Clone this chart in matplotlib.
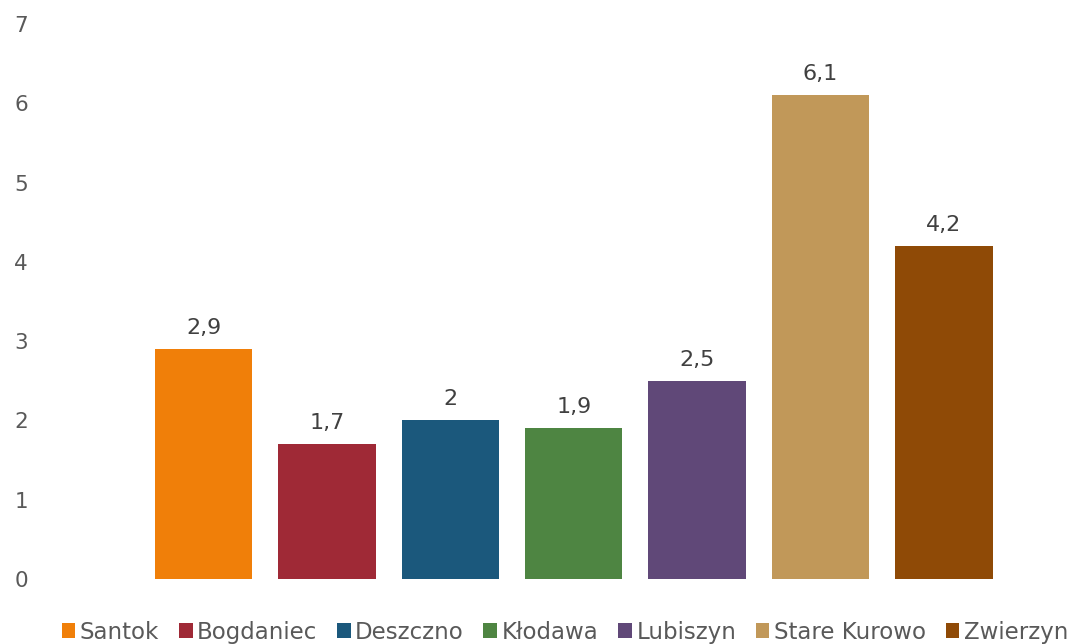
import matplotlib
matplotlib.use('Agg')
import matplotlib.pyplot as plt
import numpy as np

# data
gminy = ['Santok', 'Bogdaniec', 'Deszczno', 'Kłodawa', 'Lubiszyn', 'Stare Kurowo', 'Zwierzyn']
wartosci = [2.9, 1.7, 2.0, 1.9, 2.5, 6.1, 4.2]
etykiety = ['2,9', '1,7', '2', '1,9', '2,5', '6,1', '4,2']
kolory = ['#F07F09', '#9F2936', '#1B587C', '#4E8542', '#604878', '#C19859', '#8F4A06']

plt.rcParams['font.family'] = ['DejaVu Sans']

fig = plt.figure(figsize=(10.72, 6.44), dpi=100)
ax = fig.add_axes([60 / 1072, 65 / 644, 1000 / 1072, 555 / 644])

x = np.arange(len(gminy))
for i in range(len(gminy)):
    ax.bar(x[i], wartosci[i], width=0.79, color=kolory[i], label=gminy[i])
    ax.annotate(etykiety[i], (x[i], wartosci[i]), xytext=(0, 8),
                textcoords='offset points', ha='center', va='bottom',
                fontsize=16, color='#404040')

ax.set_xlim(-1.163, 6.941)
ax.set_ylim(0, 7)
ax.set_yticks(range(0, 8))
ax.set_xticks([])
ax.tick_params(axis='y', length=0, pad=23, labelsize=15.5, labelcolor='#595959')
for s in ax.spines.values():
    s.set_visible(False)

leg = fig.legend(loc='lower center', bbox_to_anchor=(0.527, -0.014), ncol=7,
                 frameon=False, fontsize=16.5, handlelength=0.6, handleheight=0.6,
                 handletextpad=0.2, columnspacing=0.85, borderaxespad=0)
for t in leg.get_texts():
    t.set_color('#595959')

fig.savefig('out.png', dpi=100)
